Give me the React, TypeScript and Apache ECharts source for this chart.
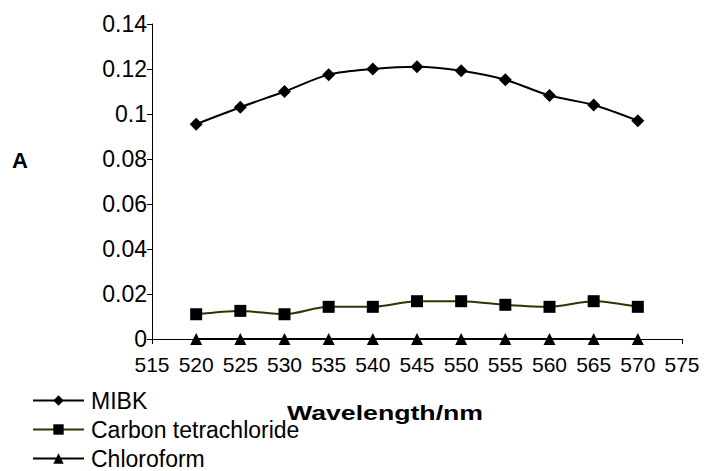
import React, { useEffect, useRef } from "react";
import * as echarts from "echarts";

const wavelengths = [520, 525, 530, 535, 540, 545, 550, 555, 560, 565, 570];
const mibk = [0.0955, 0.103, 0.11, 0.1175, 0.12, 0.121, 0.1192, 0.1152, 0.1082, 0.104, 0.097];
const carbonTet = [0.011, 0.0125, 0.011, 0.0143, 0.0143, 0.0168, 0.0168, 0.0152, 0.0143, 0.0168, 0.0143];
const chloroform = [0, 0, 0, 0, 0, 0, 0, 0, 0, 0, 0];
const seriesNames = ["MIBK", "Carbon tetrachloride", "Chloroform"];

const FONT = "Liberation Sans, Arial, sans-serif";

export default function App() {
  const ref = useRef<HTMLDivElement>(null);
  useEffect(() => {
    if (!ref.current) return;
    const chart = echarts.init(ref.current, undefined, { renderer: "svg" });
    const mk = (vals: number[]) => wavelengths.map((w, i) => [w, vals[i]]);
    chart.setOption({
      animation: false,
      backgroundColor: "#ffffff",
      textStyle: { fontFamily: FONT },
      grid: { left: 152, right: 22, top: 24, bottom: 132, containLabel: false },
      xAxis: {
        type: "value",
        min: 515,
        max: 575,
        interval: 5,
        axisLine: { lineStyle: { color: "#000", width: 1 } },
        axisTick: { show: true, length: 5, lineStyle: { color: "#000" } },
        splitLine: { show: false },
        axisLabel: { color: "#000", fontSize: 21, fontFamily: FONT, margin: 15 },
      },
      yAxis: {
        type: "value",
        min: 0,
        max: 0.14,
        interval: 0.02,
        axisLine: { show: true, lineStyle: { color: "#000", width: 1 } },
        axisTick: { show: true, length: 5, lineStyle: { color: "#000" } },
        splitLine: { show: false },
        axisLabel: { color: "#000", fontSize: 23, fontFamily: FONT, margin: 5 },
      },
      legend: {
        orient: "vertical",
        left: 32,
        top: 389,
        padding: 0,
        itemWidth: 51,
        itemHeight: 13,
        itemGap: 6,
        textStyle: { color: "#000", fontSize: 23, fontFamily: FONT, padding: [0, 0, 0, 2] },
        data: seriesNames,
      },
      series: [
        {
          name: seriesNames[0],
          type: "line",
          smooth: 0.3,
          data: mk(mibk),
          symbol: "diamond",
          symbolSize: 13,
          lineStyle: { color: "#000", width: 2 },
          itemStyle: { color: "#000" },
        },
        {
          name: seriesNames[1],
          type: "line",
          smooth: 0.3,
          data: mk(carbonTet),
          symbol: "rect",
          symbolSize: 12,
          lineStyle: { color: "#333300", width: 2 },
          itemStyle: { color: "#000" },
        },
        {
          name: seriesNames[2],
          type: "line",
          smooth: 0.3,
          data: mk(chloroform),
          symbol: "triangle",
          symbolSize: 12,
          lineStyle: { color: "#000", width: 2 },
          itemStyle: { color: "#000" },
        },
      ],
      graphic: [
        {
          type: "text",
          x: 287,
          y: 413,
          scaleX: 1.27,
          style: {
            text: "Wavelength/nm",
            fill: "#000",
            font: "bold 21px " + FONT,
            textVerticalAlign: "middle",
          },
        },
        {
          type: "text",
          x: 12,
          y: 160,
          style: { text: "A", fill: "#000", font: "bold 22px " + FONT, textVerticalAlign: "middle" },
        },
      ],
    });
    return () => chart.dispose();
  }, []);
  return <div ref={ref} style={{ width: 704, height: 471, position: "absolute", left: 0, top: 0 }} />;
}
